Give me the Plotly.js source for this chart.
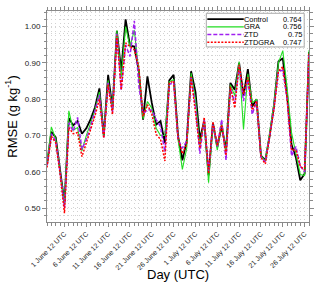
<!DOCTYPE html>
<html>
<head>
<meta charset="utf-8">
<script src="https://cdn.plot.ly/plotly-3.0.1.min.js"></script>
<style>html,body{margin:0;padding:0;background:#fff;}#chart{width:320px;height:289px;}</style>
</head>
<body>
<div id="chart"></div>
<script>
// Day index: 0 = 28 May 12 UTC ... 60 = 26 July 12 UTC
var tickDays = [4, 9, 14, 19, 24, 29, 34, 39, 44, 49, 54, 59];
var tickLabels = ["1 June 12 UTC", "6 June 12 UTC", "11 June 12 UTC", "16 June 12 UTC",
  "21 June 12 UTC", "26 June 12 UTC", "1 July 12 UTC", "6 July 12 UTC",
  "11 July 12 UTC", "16 July 12 UTC", "21 July 12 UTC", "26 July 12 UTC"];

var control = [0.620,0.710,0.695,0.610,0.515,0.748,0.728,0.740,0.705,0.720,
               0.745,0.778,0.830,0.700,0.867,0.775,0.988,0.877,1.020,0.948,
               0.945,0.880,0.744,0.863,0.790,0.730,0.740,0.680,0.852,0.867,
               0.700,0.632,0.685,0.877,0.820,0.690,0.740,0.590,0.735,0.668,
               0.726,0.660,0.845,0.826,0.900,0.810,0.883,0.780,0.800,0.645,
               0.632,0.700,0.785,0.904,0.913,0.810,0.675,0.640,0.577,0.595,0.930];
var gra =     [0.625,0.724,0.690,0.605,0.510,0.768,0.715,0.722,0.658,0.700,
               0.735,0.770,0.820,0.702,0.852,0.770,0.990,0.860,1.000,0.945,
               0.990,0.880,0.746,0.794,0.775,0.720,0.700,0.700,0.848,0.854,
               0.690,0.607,0.665,0.872,0.800,0.670,0.745,0.570,0.730,0.660,
               0.735,0.655,0.840,0.810,0.904,0.717,0.870,0.790,0.800,0.645,
               0.630,0.705,0.790,0.900,0.934,0.830,0.708,0.650,0.593,0.590,0.935];
var ztd =     [0.618,0.705,0.685,0.600,0.500,0.735,0.712,0.750,0.662,0.690,
               0.725,0.765,0.812,0.695,0.845,0.765,0.980,0.826,0.950,0.918,
               1.016,0.840,0.760,0.771,0.770,0.744,0.725,0.655,0.840,0.848,
               0.690,0.665,0.685,0.860,0.780,0.650,0.745,0.600,0.730,0.670,
               0.744,0.632,0.830,0.790,0.890,0.795,0.855,0.758,0.795,0.640,
               0.628,0.700,0.780,0.877,0.880,0.800,0.644,0.670,0.616,0.600,0.925];
var ztdgra =  [0.612,0.698,0.680,0.595,0.486,0.722,0.705,0.708,0.642,0.680,
               0.718,0.755,0.800,0.693,0.840,0.758,0.975,0.826,0.955,0.945,
               0.936,0.890,0.753,0.785,0.760,0.703,0.690,0.630,0.845,0.850,
               0.695,0.650,0.675,0.862,0.770,0.665,0.750,0.595,0.738,0.672,
               0.730,0.645,0.835,0.776,0.895,0.815,0.860,0.770,0.795,0.640,
               0.622,0.698,0.775,0.877,0.890,0.800,0.660,0.660,0.616,0.605,0.925];

var names = ["Control", "GRA", "ZTD", "ZTDGRA"];
var scores = ["0.764", "0.756", "0.75", "0.747"];
var colors = ["#000000", "#22dd22", "#a020f0", "#ff0000"];
var dashes = ["solid", "solid", "4px,2px", "2px,1.5px"];
var widths = [1.8, 1.1, 1.5, 1.5];
var series = [control, gra, ztd, ztdgra];

var days = control.map(function (_, i) { return i; });

var traces = series.map(function (s, k) {
  return {
    x: days, y: s, type: "scatter", mode: "lines", name: names[k],
    line: {color: colors[k], width: widths[k], dash: dashes[k]},
    showlegend: false
  };
});

// hand-drawn compact legend (paper coords)
var pl = 47, pr = 309.3, pt = 11, pb = 222.3;
function px(x) { return (x - pl) / (pr - pl); }
function py(y) { return (pb - y) / (pb - pt); }
var rowY = [19.2, 26.9, 34.6, 42.3];
var shapes = [{type: "rect", xref: "paper", yref: "paper",
  x0: px(206.5), x1: px(304.5), y0: py(47), y1: py(13.3),
  fillcolor: "#ffffff", line: {color: "#aaaaaa", width: 1}, layer: "above"}];
var legFont = {family: "Liberation Sans, Arial, sans-serif", size: 7.4, color: "#000"};
var annotations = [{xref: "paper", yref: "paper", x: 0.5, y: py(275),
  xanchor: "center", yanchor: "middle", text: "Day (UTC)", showarrow: false,
  borderpad: 0, font: {family: "Liberation Sans, Arial, sans-serif", size: 13, color: "#000"}}];
names.forEach(function (n, k) {
  shapes.push({type: "line", xref: "paper", yref: "paper",
    x0: px(207.5), x1: px(244), y0: py(rowY[k]), y1: py(rowY[k]),
    line: {color: colors[k], width: widths[k], dash: dashes[k]}, layer: "above"});
  annotations.push({xref: "paper", yref: "paper", x: px(243.5), y: py(rowY[k]),
    xanchor: "left", yanchor: "middle", text: n, showarrow: false,
    borderpad: 0, font: legFont});
  annotations.push({xref: "paper", yref: "paper", x: px(303.5), y: py(rowY[k]),
    xanchor: "right", yanchor: "middle", text: scores[k], showarrow: false,
    borderpad: 0, font: legFont});
});

var gridCol = "#d2d2d2";
var axCol = "#8a8a8a";
var layout = {
  width: 320, height: 289,
  margin: {l: pl, r: 320 - pr, t: pt, b: 289 - pb},
  paper_bgcolor: "#ffffff", plot_bgcolor: "#ffffff",
  font: {family: "Liberation Sans, Arial, sans-serif", color: "#222"},
  xaxis: {
    range: [0, 60], tickmode: "array", tickvals: tickDays, ticktext: tickLabels,
    tickangle: -45, tickfont: {size: 7, color: "#222"},
    ticks: "outside", ticklen: 4, tickcolor: axCol, tickwidth: 1,
    showline: true, linecolor: axCol, linewidth: 1, mirror: "ticks",
    showgrid: true, gridcolor: gridCol, griddash: "1px,3px", gridwidth: 1,
    zeroline: false,
    minor: {tickmode: "linear", tick0: 0, dtick: 1, ticks: "outside", ticklen: 3,
      tickcolor: axCol, showgrid: true, gridcolor: gridCol, griddash: "1px,3px", gridwidth: 1}
  },
  yaxis: {
    range: [0.462, 1.043], tickmode: "linear", tick0: 0.5, dtick: 0.1, tickformat: ".2f",
    tickfont: {size: 8, color: "#222"},
    ticks: "outside", ticklen: 4, tickcolor: axCol, tickwidth: 1,
    showline: true, linecolor: axCol, linewidth: 1, mirror: "ticks",
    showgrid: true, gridcolor: gridCol, griddash: "1px,3px", gridwidth: 1,
    zeroline: false,
    minor: {tickmode: "linear", tick0: 0.5, dtick: 0.02, ticks: "outside", ticklen: 2.5,
      tickcolor: axCol, showgrid: true, gridcolor: gridCol, griddash: "1px,3px", gridwidth: 1},
    title: {text: "RMSE (g kg<sup>-1</sup>)", font: {size: 13, color: "#000"}, standoff: 4}
  },
  shapes: shapes,
  annotations: annotations,
  showlegend: false
};

Plotly.newPlot("chart", traces, layout, {staticPlot: true, displayModeBar: false});
</script>
</body>
</html>
